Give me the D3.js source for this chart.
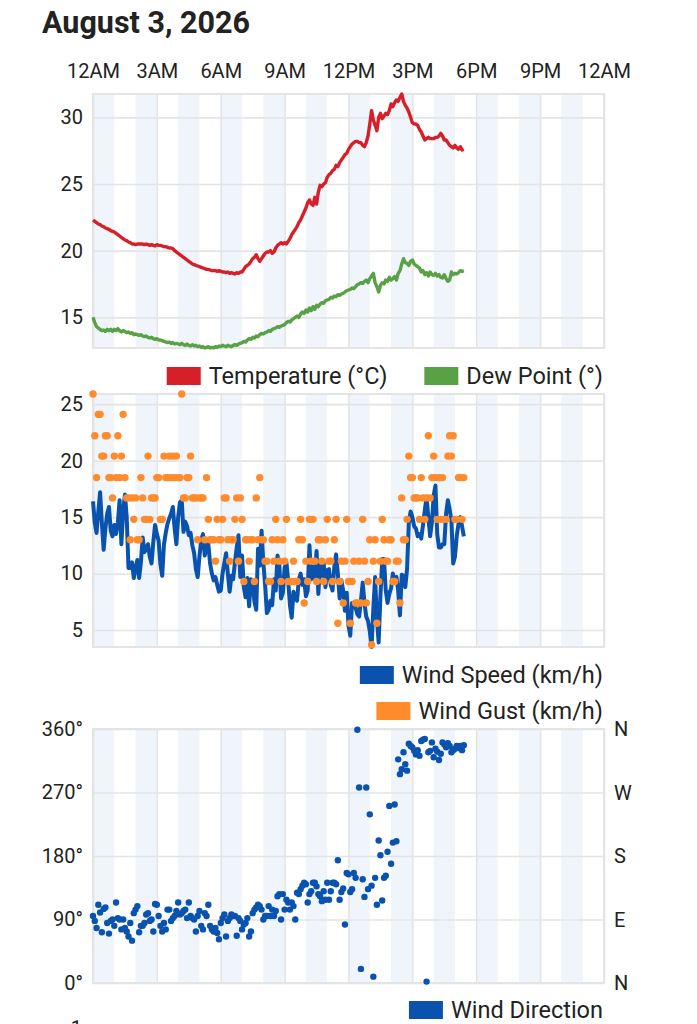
<!DOCTYPE html>
<html>
<head>
<meta charset="utf-8">
<script src="https://cdn.jsdelivr.net/npm/d3@7"></script>
<style>
  body { margin: 0; background: #fff; }
  svg text { font-family: Roboto, "Noto Sans", sans-serif; fill: #222; }
</style>
</head>
<body>
<div id="chart"></div>
<script>
// observations every 5 minutes from midnight
var title = "August 3, 2026";
var stepMinutes = 5;

var temperature = [
  22.3, 22.2, 22.1, 22.0, 21.95, 21.85, 21.8, 21.7, 21.65, 21.6, 21.5, 21.45, 21.4, 21.3, 21.2, 21.1, 21.0, 20.9, 20.8, 20.75, 20.65, 20.6, 20.5, 20.5,
  20.45, 20.5, 20.5, 20.5, 20.5, 20.45, 20.5, 20.45, 20.4, 20.45, 20.4, 20.35,
  20.45, 20.4, 20.4, 20.35, 20.3, 20.3, 20.25, 20.2, 20.2, 20.15, 20.0, 19.9, 19.8, 19.7, 19.6, 19.5, 19.4, 19.3, 19.2, 19.1, 19.0, 18.95, 18.9, 18.85,
  18.8, 18.75, 18.7, 18.65, 18.6, 18.6, 18.55, 18.5, 18.5, 18.5, 18.45, 18.5, 18.45, 18.4, 18.4, 18.35, 18.4, 18.3, 18.35, 18.3, 18.25, 18.35, 18.3, 18.4,
  18.4, 18.6, 18.8, 18.9, 19.0, 19.2, 19.4, 19.5, 19.7, 19.4, 19.2, 19.4, 19.6, 19.8, 19.9, 19.9, 20.0, 19.8, 19.9, 20.2, 20.4, 20.5, 20.6, 20.5,
  20.6, 20.5, 20.7, 20.9, 21.2, 21.4, 21.6, 21.8, 22.1, 22.3, 22.6, 22.9, 23.2, 23.6, 23.8, 23.5, 23.4, 24.0, 23.5, 24.4, 24.9, 24.8, 25.0, 25.1,
  25.5, 25.7, 25.8, 26.0, 26.1, 26.4, 26.3, 26.6, 26.8, 27.0, 27.2, 27.3, 27.6, 27.8, 28.0, 28.1, 28.2, 28.2, 28.1, 28.1, 27.9, 27.8, 28.1, 28.6,
  29.5, 30.5, 29.8, 29.4, 29.0, 30.0, 30.3, 29.9, 30.1, 30.3, 30.2, 30.5, 31.0, 30.8, 31.1, 31.3, 31.2, 31.5, 31.75, 31.2, 30.9, 30.7, 30.4, 30.0,
  29.6, 29.5, 29.5, 29.4, 29.1, 28.9, 28.6, 28.3, 28.4, 28.5, 28.4, 28.4, 28.4, 28.5, 28.5, 28.6, 28.8, 28.6, 28.3, 28.3, 28.1, 27.9, 27.8, 27.7, 27.9, 27.7, 27.6, 27.8, 27.55, 27.6
];

var dewPoint = [
  15.0, 14.6, 14.3, 14.2, 14.1, 14.0, 14.05, 13.95, 14.1, 14.0, 14.1, 13.95, 14.1, 14.0, 14.15, 14.0, 13.9, 14.0, 13.95, 13.85, 13.9, 13.8, 13.85, 13.7,
  13.75, 13.7, 13.65, 13.7, 13.6, 13.55, 13.6, 13.5, 13.45, 13.5, 13.4, 13.35, 13.4, 13.3, 13.3, 13.25, 13.2, 13.15, 13.1, 13.15, 13.05, 13.1, 13.0, 13.05,
  13.0, 12.95, 13.05, 12.95, 12.9, 13.0, 12.9, 12.85, 12.95, 12.85, 12.9, 12.8, 12.85, 12.75, 12.8, 12.7, 12.75, 12.8, 12.7, 12.75, 12.7, 12.8, 12.75, 12.85,
  12.8, 12.9, 12.85, 12.8, 12.9, 12.85, 12.8, 12.9, 12.95, 12.9, 13.0, 13.05, 13.1, 13.2, 13.15, 13.3, 13.4, 13.35, 13.5, 13.45, 13.6, 13.55, 13.7, 13.8,
  13.75, 13.85, 13.9, 14.0, 13.95, 14.1, 14.15, 14.2, 14.3, 14.25, 14.35, 14.4, 14.45, 14.6, 14.7, 14.65, 14.8, 14.9, 15.0, 15.1, 15.0, 15.25, 15.4, 15.3,
  15.55, 15.4, 15.7, 15.5, 15.8, 15.6, 15.9, 15.8, 16.0, 16.1, 16.05, 16.25, 16.3, 16.35, 16.5, 16.45, 16.6, 16.55, 16.7, 16.65, 16.75, 16.8, 16.9, 17.0,
  17.05, 17.1, 17.2, 17.15, 17.3, 17.45, 17.5, 17.6, 17.55, 17.7, 17.8, 17.6, 17.9, 18.1, 18.3, 17.6, 17.3, 16.9, 17.4, 17.6, 17.5, 17.8, 17.7, 18.0,
  17.8, 17.9, 18.05, 17.8, 18.3, 18.5, 19.0, 19.4, 19.1, 19.05, 18.9, 19.2, 19.3, 19.0, 18.9, 18.8, 18.7, 18.4, 18.5, 18.2, 18.35, 18.1, 18.4, 18.2,
  18.15, 18.3, 18.1, 18.2, 18.0, 17.95, 18.2, 17.9, 17.7, 17.8, 18.4, 18.2, 18.3, 18.25, 18.35, 18.5, 18.45, 18.5
];

var windSpeed = [
  16.4, 14.5, 13.6, 15.5, 17.2, 14.5, 12.1, 14.0, 15.3, 15.9, 13.8, 13.3, 14.3, 13.5, 14.5, 16.5, 12.6, 15.5, 17.0, 15.0,
  10.5, 10.5, 11.0, 9.6, 10.5, 11.2, 9.6, 11.0, 13.2, 11.9, 12.2, 12.6, 11.5, 10.9, 12.8, 14.3, 13.5, 12.9, 10.8, 9.8,
  12.6, 13.6, 14.4, 14.9, 15.3, 15.9, 14.0, 12.6, 15.0, 16.3, 16.5, 13.7, 14.6, 14.2, 13.4, 13.6, 12.5, 11.8, 10.4, 9.7,
  11.5, 13.0, 13.5, 11.6, 12.5, 12.6, 10.9, 10.0, 9.4, 9.7, 9.0, 8.4, 8.5, 10.0, 10.9, 11.8, 10.0, 8.4, 9.8, 9.5,
  11.0, 12.3, 13.4, 9.7, 11.6, 8.8, 7.9, 9.6, 7.1, 9.5, 9.3, 7.5, 6.8, 12.2, 10.7, 13.8, 11.0, 9.0, 6.5, 6.8,
  7.6, 7.2, 9.5, 8.5, 11.6, 10.8, 7.8, 8.3, 10.5, 11.0, 9.4, 7.2, 6.1, 8.4, 7.8, 7.6, 9.5, 10.0, 9.0, 9.5,
  8.0, 8.5, 12.5, 9.5, 10.6, 9.5, 12.0, 8.2, 10.8, 9.8, 11.0, 8.8, 10.3, 10.4, 9.0, 8.5, 10.6, 11.7, 10.0, 7.8,
  9.4, 8.5, 6.7, 8.3, 5.4, 4.5, 7.4, 7.4, 7.0, 6.4, 6.2, 7.6, 9.2, 7.4, 6.2, 5.8, 4.9, 3.5, 6.9, 9.7,
  6.0, 3.9, 8.0, 11.3, 11.3, 8.5, 7.4, 8.2, 8.7, 10.0, 9.2, 9.7, 8.5, 6.3, 9.9, 9.8, 8.8, 10.4, 14.5, 15.5,
  15.0, 14.2, 14.0, 13.3, 13.5, 13.1, 14.3, 15.6, 16.8, 15.0, 13.3, 14.5, 16.9, 17.8, 13.5, 12.3, 12.3, 12.6, 12.6, 15.3,
  16.5, 15.7, 14.7, 10.9, 11.5, 13.3, 14.4, 15.0, 14.2, 13.3
];

var windGust = [
  25.9, 22.2, 18.5, 24.1, 24.1, 20.4, 20.4, 22.2, 22.2, 18.5, 18.5, 16.7, 20.4, 18.5, 22.2, 18.5, 20.4, 24.1, 18.5, 16.7,
  16.7, 13.0, 16.7, 14.8, 16.7, 13.0, 13.0, 18.5, 16.7, 14.8, 14.8, 20.4, 14.8, 16.7, 16.7, 16.7, 18.5, 18.5, 14.8, 14.8,
  20.4, 18.5, 18.5, 20.4, 18.5, 20.4, 18.5, 20.4, 18.5, 18.5, 25.9, 16.7, 16.7, 18.5, 18.5, 20.4, 16.7, 16.7, 16.7, 13.0,
  16.7, 16.7, 16.7, 13.0, 18.5, 14.8, 13.0, 13.0, 13.0, 11.1, 14.8, 13.0, 13.0, 14.8, 16.7, 16.7, 13.0, 11.1, 13.0, 13.0,
  14.8, 16.7, 11.1, 16.7, 14.8, 9.3, 13.0, 13.0, 11.1, 13.0, 13.0, 9.3, 16.7, 13.0, 18.5, 13.0, 13.0, 11.1, 11.1, 9.3,
  9.3, 13.0, 11.1, 14.8, 13.0, 11.1, 9.3, 13.0, 11.1, 14.8, 9.3, 9.3, 9.3, 11.1, 9.3, 9.3, 13.0, 14.8, 13.0, 7.4,
  11.1, 9.3, 14.8, 11.1, 14.8, 11.1, 9.3, 13.0, 13.0, 11.1, 9.3, 13.0, 14.8, 11.1, 11.1, 9.3, 13.0, 14.8, 5.6, 9.3,
  11.1, 7.4, 11.1, 14.8, 9.3, 5.6, 9.3, 11.1, 7.4, 7.4, 11.1, 7.4, 14.8, 11.1, 7.4, 9.3, 13.0, 3.7, 11.1, 13.0,
  5.6, 9.3, 11.1, 14.8, 13.0, 11.1, 11.1, 13.0, 13.0, 9.3, 9.3, 11.1, 11.1, 7.4,
  16.7, 13.0, 13.0, 14.8, 20.4, 18.5, 18.5, 16.7, 16.7, 16.7, 14.8, 18.5, 16.7, 14.8, 16.7, 22.2, 16.7, 18.5,
  20.4, 18.5, 14.8, 18.5, 14.8, 18.5, 14.8, 14.8, 20.4, 22.2, 20.4, 22.2, 14.8, 14.8, 18.5, 18.5, 14.8, 18.5
];

var windDirection = [
  95, 88, 78, 111, 100, 72, 105, 107, 85, 70, 88, 90,
  81, 114, 92, 90, 76, 90, 78, 73, 66, 85, 60, 99,
  104, 109, 72, 81, 81, 85, 97, 99, 88, 90, 73, 112,
  111, 95, 81, 73, 85, 76, 104, 104, 88, 92, 95, 102,
  114, 97, 99, 102, 104, 92, 114, 95, 92, 90, 73, 95,
  102, 81, 76, 99, 95, 111, 81, 76, 73, 78, 71, 62,
  85, 92, 97, 66, 88, 92, 97, 95, 95, 67, 92, 88,
  76, 83, 85, 92, 66, 73, 99, 104, 107, 111, 109, 104,
  90, 95, 95, 109, 95, 104, 95, 102, 123, 126, 90, 126,
  104, 118, 114, 104, 114, 109, 90, 128, 126, 133, 138, 142,
  140, 114, 126, 130, 142, 142, 137, 126, 123, 116, 130, 118, 142,
  118, 130, 142, 142, 140, 174, 118, 129, 134, 83,
  156, 154, 129, 133, 156, 149, 359, 277, 20, 147,
  122, 277, 133, 239, 138, 9, 149, 111, 202, 181,
  117, 149, 152, 186, 251, 169, 199, 253, 201, 317,
  296, 303, 327, 310, 301, 339, 336, 334, 329, 324,
  330, 322, 343, 345, 346, 2, 327, 329, 341, 320,
  332, 328, 316, 325, 341, 338, 334, 340, 336, 327,
  330, 332, 336, 333, 336, 330, 337
];

var tempTicks = [15, 20, 25, 30];
var windTicks = [5, 10, 15, 20, 25];
var dirTicks = [0, 90, 180, 270, 360];
var compassLabels = ["N", "E", "S", "W", "N"];

var colors = {temp: "#d61f29", dew: "#58a145", speed: "#0953ae", gust: "#ff8b2c"};

drawChart();

function drawChart() {
  var width = 697, height = 1024;
  var left = 93, right = 604;
  var start = new Date(2026, 7, 3), end = new Date(2026, 7, 4);

  var x = d3.scaleTime().domain([start, end]).range([left, right]);
  var times = temperature.map(function(d, i) { return d3.timeMinute.offset(start, i * stepMinutes); });

  var svg = d3.select("#chart").append("svg")
    .attr("width", width)
    .attr("height", height);

  svg.append("text")
    .attr("x", 42).attr("y", 33)
    .attr("font-size", 30.5).attr("font-weight", 700)
    .text(title);

  var topAxis = svg.append("g")
    .attr("transform", "translate(0,78)")
    .call(d3.axisTop(x).ticks(d3.timeHour.every(3)).tickFormat(d3.timeFormat("%-I%p")).tickSize(0).tickPadding(0));
  topAxis.select(".domain").remove();
  topAxis.selectAll("text").attr("font-size", 20).attr("font-family", null).attr("fill", "#222");

  function panel(top, bottom, y, ticks, fmt) {
    var g = svg.append("g");
    var hours = d3.range(0, 24, 2);
    g.selectAll("rect.band").data(hours).join("rect")
      .attr("class", "band")
      .attr("x", function(h) { return x(d3.timeHour.offset(start, h)); })
      .attr("width", function(h) { return x(d3.timeHour.offset(start, h + 1)) - x(d3.timeHour.offset(start, h)); })
      .attr("y", top).attr("height", bottom - top)
      .attr("fill", "#eff5fa");

    var vgrid = g.append("g")
      .attr("transform", "translate(0," + bottom + ")")
      .call(d3.axisBottom(x).ticks(d3.timeHour.every(3)).tickSize(-(bottom - top)).tickFormat(""));
    vgrid.select(".domain").remove();
    vgrid.selectAll("line").attr("stroke", "#e4e4e4").attr("stroke-width", 1.6);

    var ygrid = g.append("g")
      .attr("transform", "translate(" + left + ",0)")
      .call(d3.axisLeft(y).tickValues(ticks).tickSize(-(right - left)).tickPadding(10).tickFormat(fmt));
    ygrid.select(".domain").remove();
    ygrid.selectAll("line").attr("stroke", "#e4e4e4").attr("stroke-width", 1.6);
    ygrid.selectAll("text").attr("font-size", 20).attr("font-family", null).attr("fill", "#222");

    g.append("rect")
      .attr("x", left).attr("y", top)
      .attr("width", right - left).attr("height", bottom - top)
      .attr("fill", "none").attr("stroke", "#e4e4e4").attr("stroke-width", 2);
    return g;
  }

  function legend(items, cy) {
    var edge = 603;
    items.slice().reverse().forEach(function(item) {
      var t = svg.append("text")
        .attr("x", edge).attr("y", cy).attr("dy", "0.35em")
        .attr("text-anchor", "end").attr("font-size", 23.5)
        .text(item.label);
      var w = t.node().getComputedTextLength();
      var rx = edge - w - 8 - 34;
      svg.append("rect")
        .attr("x", rx).attr("y", cy - 9)
        .attr("width", 34).attr("height", 18)
        .attr("fill", item.color);
      edge = rx - 37;
    });
  }

  // temperature and dew point
  var yTemp = d3.scaleLinear()
    .domain([d3.min(dewPoint), d3.max(temperature)])
    .range([348, 94]);
  panel(94, 348, yTemp, tempTicks, d3.format("d"));

  var tempLine = d3.line()
    .x(function(d, i) { return x(times[i]); })
    .y(function(d) { return yTemp(d); });

  svg.append("path").datum(dewPoint)
    .attr("d", tempLine).attr("fill", "none")
    .attr("stroke", colors.dew).attr("stroke-width", 3.4).attr("stroke-linejoin", "round");
  svg.append("path").datum(temperature)
    .attr("d", tempLine).attr("fill", "none")
    .attr("stroke", colors.temp).attr("stroke-width", 3.4).attr("stroke-linejoin", "round");

  legend([{label: "Temperature (°C)", color: colors.temp}, {label: "Dew Point (°)", color: colors.dew}], 376);

  // wind speed and gusts
  var yWind = d3.scaleLinear()
    .domain([d3.min(windSpeed.concat(windGust)), d3.max(windSpeed.concat(windGust))])
    .range([647, 394]);
  panel(394, 647, yWind, windTicks, d3.format("d"));

  var windLine = d3.line()
    .x(function(d, i) { return x(times[i]); })
    .y(function(d) { return yWind(d); });

  svg.append("path").datum(windSpeed)
    .attr("d", windLine).attr("fill", "none")
    .attr("stroke", colors.speed).attr("stroke-width", 4).attr("stroke-linejoin", "round");

  svg.append("g").selectAll("circle")
    .data(windGust)
    .enter()
    .append("circle")
    .attr("cx", function(d, i) { return x(times[i]); })
    .attr("cy", function(d) { return yWind(d); })
    .attr("r", 3.7)
    .attr("fill", colors.gust);

  legend([{label: "Wind Speed (km/h)", color: colors.speed}], 675);
  legend([{label: "Wind Gust (km/h)", color: colors.gust}], 711);

  // wind direction
  var yDir = d3.scaleLinear().domain([0, 360]).range([983, 729]);
  panel(729, 983, yDir, dirTicks, function(d) { return d + "°"; });

  svg.append("g").selectAll("text")
    .data(dirTicks)
    .enter()
    .append("text")
    .attr("x", 614).attr("y", function(d) { return yDir(d); })
    .attr("dy", "0.35em").attr("font-size", 20)
    .text(function(d, i) { return compassLabels[i]; });

  svg.append("g").selectAll("circle")
    .data(windDirection)
    .enter()
    .append("circle")
    .attr("cx", function(d, i) { return x(times[i]); })
    .attr("cy", function(d) { return yDir(d); })
    .attr("r", 3.2)
    .attr("fill", colors.speed);

  legend([{label: "Wind Direction", color: colors.speed}], 1010);

  // top of the next chart's first label, cut off by the window as in the reference
  svg.append("text")
    .attr("x", 82).attr("y", 1035)
    .attr("text-anchor", "end").attr("font-size", 20)
    .text("1");
}
</script>
</body>
</html>
